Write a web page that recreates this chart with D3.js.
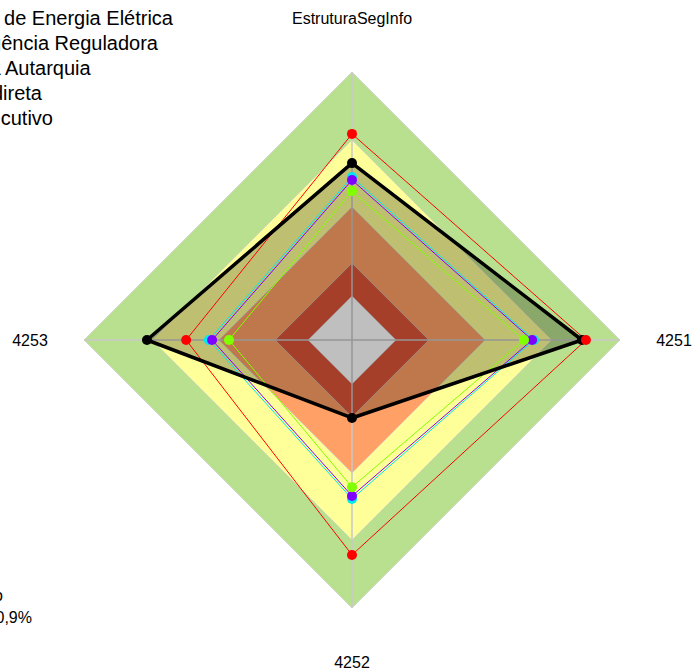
<!DOCTYPE html>
<html>
<head>
<meta charset="utf-8">
<script src="https://cdn.jsdelivr.net/npm/d3@7/dist/d3.min.js"></script>
<style>
  html, body { margin: 0; padding: 0; background: #fff; }
  svg { display: block; font-family: "Liberation Sans", Arial, sans-serif; }
</style>
</head>
<body>
<svg id="chart" width="693" height="672"></svg>
<script>
// Radar axes, clockwise from the top
const axes = ["EstruturaSegInfo", "4251", "4252", "4253"];

// Series names, colours and values (percent), one value per axis
const seriesNames = [
  "Agência Nacional de Energia Elétrica",
  "Média Agência Reguladora",
  "Média Autarquia",
  "Média Administração Indireta",
  "Média Poder Executivo"
];
const seriesColors = ["#000000", "#ff0000", "#00e8f0", "#8000ff", "#80ff00"];
const anelValues      = [66.0, 85.8, 29.1, 76.5];
const reguladoraVals  = [76.9, 87.3, 80.2, 61.9];
const autarquiaVals   = [60.8, 67.9, 59.3, 53.4];
const indiretaVals    = [59.7, 67.2, 58.2, 52.2];
const executivoVals   = [55.6, 64.2, 54.9, 45.9];
const seriesValues = [anelValues, reguladoraVals, autarquiaVals, indiretaVals, executivoVals];

// Background maturity bands (upper bound in percent)
const bandLimits = [100, 74.6, 49.6, 28.7, 16.4];
const bandColors = ["#b9e08e", "#ffff99", "#ffa066", "#dc5539", "#ffffff"];

// Footnote lines at the lower left
const noteLines = ["Média do órgão", "ANEEL: 60,9%"];

const svg = d3.select("#chart");
const cx = 352, cy = 340, R = 268;

const r = d3.scaleLinear().domain([0, 100]).range([0, R]);
const angle = d3.scalePoint().domain(axes).range([0, 2 * Math.PI * (axes.length - 1) / axes.length]);

const line = d3.lineRadial()
  .angle((d, i) => angle(axes[i]))
  .radius(d => r(d))
  .curve(d3.curveLinearClosed);

const g = svg.append("g").attr("transform", `translate(${cx},${cy})`);

// bands
g.selectAll("path.band")
  .data(bandLimits)
  .join("path")
  .attr("class", "band")
  .attr("d", v => line(axes.map(() => v)))
  .attr("fill", (v, i) => bandColors[i])
  .attr("stroke", "#cfcfcf")
  .attr("stroke-width", 0.7);

// axis spokes
g.selectAll("line.spoke")
  .data(axes)
  .join("line")
  .attr("class", "spoke")
  .attr("x1", 0).attr("y1", 0)
  .attr("x2", d => r(100) * Math.sin(angle(d)))
  .attr("y2", d => -r(100) * Math.cos(angle(d)))
  .attr("stroke", "#c8c8c8")
  .attr("stroke-width", 1.5);

// main series: filled polygon
g.append("path")
  .attr("d", line(seriesValues[0]))
  .attr("fill", "rgba(0,0,0,0.25)")
  .attr("stroke", "none");

// comparison series lines (drawn back to front)
const order = [2, 3, 4, 1];
order.forEach(si => {
  g.append("path")
    .attr("d", line(seriesValues[si]))
    .attr("fill", "none")
    .attr("stroke", seriesColors[si])
    .attr("stroke-width", 1);
});

// main series outline
g.append("path")
  .attr("d", line(seriesValues[0]))
  .attr("fill", "none")
  .attr("stroke", "#000")
  .attr("stroke-width", 3.5)
  .attr("stroke-linejoin", "round");

// dots
[0, 2, 3, 4, 1].forEach(si => {
  g.selectAll(null)
    .data(seriesValues[si])
    .join("circle")
    .attr("cx", (d, i) => r(d) * Math.sin(angle(axes[i])))
    .attr("cy", (d, i) => -r(d) * Math.cos(angle(axes[i])))
    .attr("r", 5)
    .attr("fill", seriesColors[si]);
});

// axis labels
g.selectAll("text.axis")
  .data(axes)
  .join("text")
  .attr("class", "axis")
  .attr("x", d => 322 * Math.sin(angle(d)))
  .attr("y", d => -322 * Math.cos(angle(d)))
  .attr("text-anchor", "middle")
  .attr("dy", "0.35em")
  .attr("font-size", 16)
  .attr("fill", "#000")
  .text(d => d);

// legend (text lines right-aligned, running off the left edge)
const legendEnds = [173, 158, 92, 42, 53];
const legend = svg.selectAll("text.legend")
  .data(seriesNames)
  .join("text")
  .attr("class", "legend")
  .attr("x", (d, i) => legendEnds[i])
  .attr("y", (d, i) => 25 + i * 25)
  .attr("text-anchor", "end")
  .attr("font-size", 20)
  .attr("fill", "#000")
  .text(d => d);

// keep the last word of the third entry starting just inside the edge
legend.filter((d, i) => i === 2).each(function (d) {
  const t = d3.select(this);
  const probe = svg.append("text").attr("font-size", 20).text("Autarquia");
  const w = probe.node().getComputedTextLength();
  probe.remove();
  t.attr("x", 5 + w);
});

// footnote
const noteEnds = [3, 32];
svg.selectAll("text.note")
  .data(noteLines)
  .join("text")
  .attr("class", "note")
  .attr("x", (d, i) => noteEnds[i])
  .attr("y", (d, i) => 601 + i * 22)
  .attr("text-anchor", "end")
  .attr("font-size", 16)
  .attr("fill", "#000")
  .text(d => d);
</script>
</body>
</html>
